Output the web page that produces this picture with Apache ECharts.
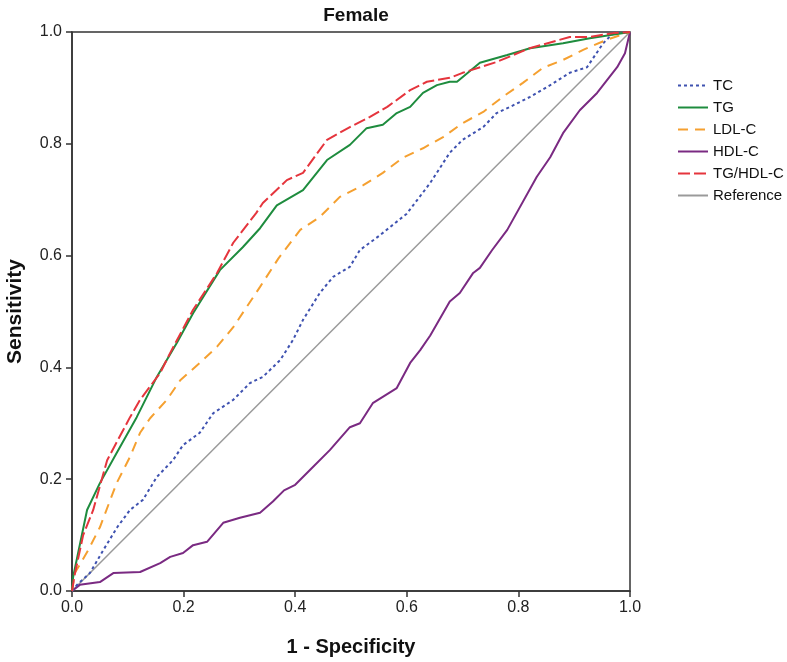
<!DOCTYPE html>
<html>
<head>
<meta charset="utf-8">
<script src="https://cdn.jsdelivr.net/npm/echarts@6/dist/echarts.min.js"></script>
<style>
  html, body { margin: 0; padding: 0; background: #fff; }
  #chart { width: 787px; height: 662px; }
</style>
</head>
<body>
<div id="chart"></div>
<script>
// ROC curves, x = 1 - specificity, y = sensitivity
const tcX = [0, 0.009, 0.032, 0.056, 0.081, 0.104, 0.127, 0.152, 0.181, 0.199, 0.229, 0.253, 0.289, 0.319, 0.342, 0.373, 0.396, 0.414, 0.444, 0.468, 0.498, 0.516, 0.55, 0.6, 0.642, 0.677, 0.70, 0.737, 0.761, 0.785, 0.821, 0.857, 0.892, 0.923, 0.952, 0.97, 1];
const tcY = [0, 0.011, 0.032, 0.073, 0.114, 0.145, 0.163, 0.204, 0.234, 0.261, 0.283, 0.318, 0.342, 0.372, 0.383, 0.413, 0.449, 0.485, 0.533, 0.562, 0.58, 0.61, 0.635, 0.675, 0.73, 0.784, 0.807, 0.83, 0.855, 0.866, 0.884, 0.905, 0.927, 0.937, 0.98, 0.998, 1];

const tgX = [0, 0.002, 0.027, 0.05, 0.08, 0.116, 0.152, 0.188, 0.217, 0.265, 0.306, 0.337, 0.367, 0.414, 0.457, 0.498, 0.528, 0.557, 0.582, 0.606, 0.629, 0.654, 0.677, 0.69, 0.731, 0.78, 0.821, 0.88, 0.928, 1];
const tgY = [0, 0.025, 0.145, 0.193, 0.247, 0.311, 0.383, 0.444, 0.497, 0.574, 0.615, 0.649, 0.69, 0.717, 0.771, 0.798, 0.828, 0.834, 0.855, 0.866, 0.891, 0.905, 0.911, 0.911, 0.945, 0.959, 0.971, 0.98, 0.989, 1];

const ldlX = [0, 0.005, 0.029, 0.05, 0.08, 0.104, 0.122, 0.14, 0.17, 0.194, 0.229, 0.26, 0.289, 0.313, 0.337, 0.37, 0.409, 0.444, 0.48, 0.522, 0.557, 0.593, 0.629, 0.665, 0.70, 0.737, 0.772, 0.808, 0.844, 0.88, 0.916, 0.958, 1];
const ldlY = [0, 0.032, 0.073, 0.114, 0.193, 0.24, 0.283, 0.309, 0.342, 0.377, 0.408, 0.437, 0.472, 0.508, 0.544, 0.595, 0.646, 0.669, 0.705, 0.726, 0.748, 0.775, 0.792, 0.812, 0.837, 0.857, 0.884, 0.909, 0.936, 0.95, 0.968, 0.986, 1];

const hdlX = [0, 0.014, 0.05, 0.074, 0.122, 0.158, 0.176, 0.199, 0.217, 0.242, 0.271, 0.301, 0.337, 0.36, 0.38, 0.40, 0.43, 0.462, 0.498, 0.516, 0.539, 0.582, 0.606, 0.624, 0.642, 0.677, 0.695, 0.719, 0.731, 0.753, 0.78, 0.833, 0.857, 0.88, 0.91, 0.941, 0.977, 0.991, 1];
const hdlY = [0, 0.011, 0.016, 0.032, 0.034, 0.05, 0.061, 0.068, 0.082, 0.088, 0.122, 0.131, 0.14, 0.16, 0.18, 0.19, 0.22, 0.252, 0.293, 0.3, 0.336, 0.363, 0.408, 0.431, 0.457, 0.518, 0.533, 0.569, 0.578, 0.61, 0.646, 0.741, 0.776, 0.819, 0.86, 0.891, 0.937, 0.962, 1];

const ratioX = [0, 0.005, 0.02, 0.038, 0.063, 0.104, 0.122, 0.158, 0.176, 0.217, 0.26, 0.289, 0.33, 0.342, 0.385, 0.414, 0.457, 0.498, 0.534, 0.565, 0.606, 0.636, 0.677, 0.70, 0.76, 0.82, 0.892, 0.928, 0.97, 1];
const ratioY = [0, 0.03, 0.1, 0.145, 0.234, 0.311, 0.342, 0.39, 0.426, 0.503, 0.569, 0.623, 0.676, 0.694, 0.735, 0.748, 0.807, 0.83, 0.848, 0.866, 0.896, 0.911, 0.918, 0.927, 0.946, 0.971, 0.991, 0.991, 0.998, 1];

const refX = [0, 1];
const refY = [0, 1];

const font = 'Liberation Sans, Arial, Helvetica, sans-serif';
const pairs = (xs, ys) => xs.map((x, i) => [x, ys[i]]);

function roc(name, xs, ys, color, type, width) {
  return {
    name,
    type: 'line',
    data: pairs(xs, ys),
    showSymbol: false,
    symbol: 'none',
    lineStyle: { color, width, type },
    // opacity 0 hides the dot the legend puts on each line icon
    itemStyle: { color, opacity: 0 },
    emphasis: { disabled: true },
  };
}

const chart = echarts.init(document.getElementById('chart'));
chart.setOption({
  animation: false,
  title: {
    text: 'Female',
    left: 351,
    textAlign: 'center',
    top: 1,
    textStyle: { fontFamily: font, fontSize: 19, fontWeight: 'bold', color: '#111' },
  },
  grid: {
    left: 72, right: 157, top: 32, bottom: 71,
    outerBoundsMode: 'none',
    show: true, borderColor: '#333', borderWidth: 1.5,
  },
  legend: {
    orient: 'vertical',
    left: 672,
    top: 73,
    itemWidth: 30,
    itemHeight: 14,
    itemGap: 7,
    textStyle: { fontFamily: font, fontSize: 15, color: '#111' },
    data: ['TC', 'TG', 'LDL-C', 'HDL-C', 'TG/HDL-C', 'Reference'],
  },
  xAxis: {
    type: 'value',
    min: 0, max: 1, interval: 0.2,
    name: '1 - Specificity',
    nameLocation: 'middle',
    nameGap: 46,
    nameTextStyle: { fontFamily: font, fontSize: 20, fontWeight: 'bold', color: '#111' },
    axisLine: { show: true, lineStyle: { color: '#333', width: 1.5 } },
    axisTick: { show: true, length: 6, lineStyle: { color: '#333', width: 1.5 } },
    splitLine: { show: false },
    axisLabel: {
      fontFamily: font, fontSize: 16, color: '#222', margin: 9,
      formatter: (v) => v.toFixed(1),
    },
  },
  yAxis: {
    type: 'value',
    min: 0, max: 1, interval: 0.2,
    name: 'Sensitivity',
    nameLocation: 'middle',
    nameGap: 46,
    nameRotate: 90,
    nameTextStyle: { fontFamily: font, fontSize: 21, fontWeight: 'bold', color: '#111' },
    axisLine: { show: true, lineStyle: { color: '#333', width: 1.5 } },
    axisTick: { show: true, length: 6, lineStyle: { color: '#333', width: 1.5 } },
    splitLine: { show: false },
    axisLabel: {
      fontFamily: font, fontSize: 16, color: '#222', margin: 10,
      formatter: (v) => v.toFixed(1),
    },
  },
  series: [
    roc('Reference', refX, refY, '#9a9a9a', 'solid', 1.5),
    roc('HDL-C', hdlX, hdlY, '#7a2a82', 'solid', 2),
    roc('TC', tcX, tcY, '#3f52b0', [3, 3], 2),
    roc('LDL-C', ldlX, ldlY, '#f5a030', [10, 7], 2),
    roc('TG', tgX, tgY, '#1e8c3e', 'solid', 2),
    roc('TG/HDL-C', ratioX, ratioY, '#e5353d', [12, 4], 2),
  ],
});
</script>
</body>
</html>
